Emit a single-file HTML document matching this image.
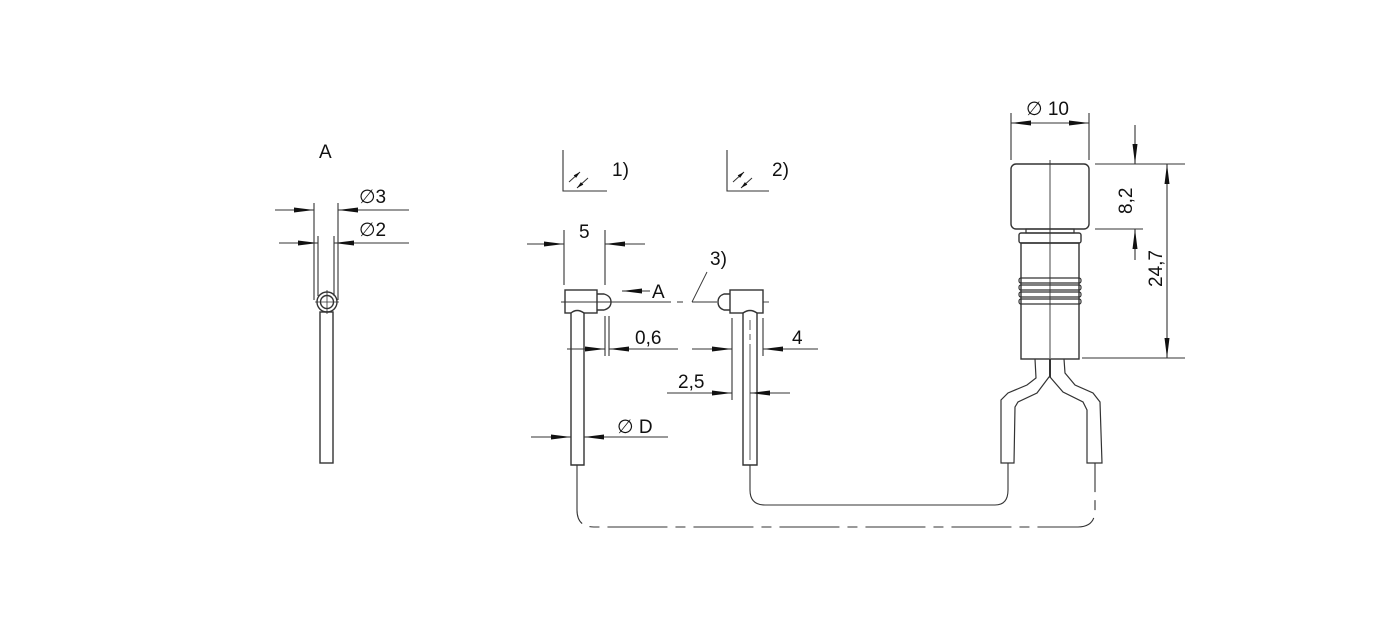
<!DOCTYPE html>
<html><head><meta charset="utf-8"><style>
html,body{margin:0;padding:0;background:#fff;}
svg{display:block;}
text{font-family:"Liberation Sans",sans-serif;font-size:19px;fill:#111;}
</style></head><body>
<svg width="1380" height="631" viewBox="0 0 1380 631" xmlns="http://www.w3.org/2000/svg">
<defs>
<marker id="ar" viewBox="0 0 20 8" refX="20" refY="4" markerWidth="20" markerHeight="8" markerUnits="userSpaceOnUse" orient="auto"><path d="M0,1.5 L20,4 L0,6.5 Z" fill="#111"/></marker>
<marker id="sa" viewBox="0 0 8 4" refX="8" refY="2" markerWidth="7" markerHeight="4" markerUnits="userSpaceOnUse" orient="auto"><path d="M0,0 L8,2 L0,4 Z" fill="#111"/></marker>
</defs>
<g stroke="#333" stroke-width="1.1" fill="none">
<!-- View A -->
<line x1="275" y1="210" x2="314" y2="210" marker-end="url(#ar)"/>
<line x1="409" y1="210" x2="338" y2="210" marker-end="url(#ar)"/>
<line x1="279" y1="243" x2="318" y2="243" marker-end="url(#ar)"/>
<line x1="409" y1="243" x2="334" y2="243" marker-end="url(#ar)"/>
<line x1="314" y1="203" x2="314" y2="300"/>
<line x1="338" y1="203" x2="338" y2="300"/>
<line x1="318" y1="236" x2="318" y2="296"/>
<line x1="334" y1="236" x2="334" y2="296"/>
<circle cx="327" cy="302" r="10" stroke-width="1.4"/>
<circle cx="327" cy="302" r="6.5" stroke-width="1.4"/>
<line x1="315" y1="302" x2="339" y2="302" stroke-width="0.8"/>
<line x1="327" y1="290" x2="327" y2="314" stroke-width="0.8"/>
<rect x="320" y="312" width="13" height="151" stroke-width="1.4"/>

<!-- symbols -->
<path d="M563,150 V191 H607"/>
<path d="M727,150 V191 H769"/>
<line x1="569" y1="182" x2="580" y2="172" marker-end="url(#sa)" stroke-width="1"/>
<line x1="588" y1="178" x2="577" y2="188" marker-end="url(#sa)" stroke-width="1"/>
<line x1="733" y1="182" x2="744" y2="172" marker-end="url(#sa)" stroke-width="1"/>
<line x1="752" y1="178" x2="741" y2="188" marker-end="url(#sa)" stroke-width="1"/>

<!-- left connector -->
<line x1="527" y1="244" x2="564" y2="244" marker-end="url(#ar)"/>
<line x1="645" y1="244" x2="605" y2="244" marker-end="url(#ar)"/>
<line x1="564" y1="230" x2="564" y2="285"/>
<line x1="605" y1="230" x2="605" y2="285"/>
<rect x="565" y="290" width="32" height="23" stroke-width="1.4"/>
<path d="M597,294 H604 Q611,296 611,302 Q611,308 604,310 H597" stroke-width="1.4"/>
<path d="M571,465 V313 Q577,308 584,313 V465 Z" fill="#fff" stroke-width="1.4"/>
<line x1="650" y1="291" x2="622" y2="291" marker-end="url(#ar)"/>
<line x1="605" y1="316" x2="605" y2="356"/>
<line x1="609" y1="316" x2="609" y2="356"/>
<line x1="567" y1="349" x2="605" y2="349" marker-end="url(#ar)"/>
<line x1="678" y1="349" x2="609" y2="349" marker-end="url(#ar)"/>
<line x1="531" y1="437" x2="571" y2="437" marker-end="url(#ar)"/>
<line x1="668" y1="437" x2="584" y2="437" marker-end="url(#ar)"/>
<path d="M561,302 H671 M677,302 H683 M692,302 H717" stroke-width="0.9"/>
<line x1="692" y1="302" x2="707" y2="272" stroke-width="0.9"/>
<path d="M763,302 H769" stroke-width="0.9"/>

<!-- right connector -->
<rect x="730" y="290" width="33" height="23" stroke-width="1.4"/>
<path d="M730,294 H724 Q718,296 718,302 Q718,308 724,310 H730" stroke-width="1.4"/>
<path d="M743,465 V313 Q750,308 757,313 V465 Z" fill="#fff" stroke-width="1.4"/>
<path d="M750,320 V330 M750,334 V340 M750,344 V460" stroke-width="0.8"/>
<line x1="732" y1="318" x2="732" y2="400"/>
<line x1="763" y1="318" x2="763" y2="356"/>
<line x1="692" y1="349" x2="732" y2="349" marker-end="url(#ar)"/>
<line x1="818" y1="349" x2="763" y2="349" marker-end="url(#ar)"/>
<line x1="667" y1="393" x2="732" y2="393" marker-end="url(#ar)"/>
<line x1="790" y1="393" x2="750" y2="393" marker-end="url(#ar)"/>

<!-- cables -->
<path d="M577,465 V510 Q577,527 594,527 H1078 Q1095,527 1095,510 V463" stroke-dasharray="60,8,10,8"/>
<path d="M750,465 V490 Q750,505 765,505 H995 Q1008,505 1008,490 V463"/>

<!-- right plug -->
<line x1="1011" y1="113" x2="1011" y2="160"/>
<line x1="1089" y1="113" x2="1089" y2="160"/>
<line x1="1050" y1="123" x2="1011" y2="123" marker-end="url(#ar)"/>
<line x1="1050" y1="123" x2="1089" y2="123" marker-end="url(#ar)"/>
<rect x="1011" y="164" width="78" height="65" rx="5" stroke-width="1.4"/>
<rect x="1026" y="229" width="48" height="4" stroke-width="1.2"/>
<rect x="1019" y="233" width="62" height="10" rx="2" stroke-width="1.4"/>
<rect x="1021" y="243" width="58" height="116" stroke-width="1.4"/>
<rect x="1019" y="278" width="62" height="5" rx="2" stroke-width="1.2"/>
<rect x="1019" y="285" width="62" height="5" rx="2" stroke-width="1.2"/>
<rect x="1019" y="292" width="62" height="5" rx="2" stroke-width="1.2"/>
<rect x="1019" y="299" width="62" height="5" rx="2" stroke-width="1.2"/>
<line x1="1050" y1="160" x2="1050" y2="358" stroke-width="0.9"/>
<line x1="1050" y1="359" x2="1050" y2="377" stroke-width="2"/>
<line x1="1095" y1="164" x2="1185" y2="164"/>
<line x1="1095" y1="229" x2="1143" y2="229"/>
<line x1="1082" y1="358" x2="1185" y2="358"/>
<line x1="1135" y1="125" x2="1135" y2="164" marker-end="url(#ar)"/>
<line x1="1135" y1="260" x2="1135" y2="229" marker-end="url(#ar)"/>
<line x1="1167" y1="260" x2="1167" y2="164" marker-end="url(#ar)"/>
<line x1="1167" y1="260" x2="1167" y2="358" marker-end="url(#ar)"/>
<path d="M1035,359 L1036,378 L1027,385 L1008,393 L1001,400 L1001,463 H1014 L1015,407 L1018,402 L1037,393 L1049,377 L1050,377 L1063,392 L1083,402 L1087,410 L1087,463 H1102 L1100,402 L1093,393 L1075,385 L1065,373 L1064,359" stroke-width="1.2"/>
</g>
<text x="319" y="158">A</text>
<text x="359" y="203">∅3</text>
<text x="359" y="236">∅2</text>
<text x="612" y="176">1)</text>
<text x="772" y="176">2)</text>
<text x="579" y="238">5</text>
<text x="652" y="298">A</text>
<text x="710" y="265">3)</text>
<text x="635" y="344">0,6</text>
<text x="792" y="344">4</text>
<text x="678" y="388">2,5</text>
<text x="617" y="433">∅ D</text>
<text x="1026" y="115">∅ 10</text>
<text transform="translate(1132,214) rotate(-90)">8,2</text>
<text transform="translate(1162,287) rotate(-90)">24,7</text>
</svg>
</body></html>
